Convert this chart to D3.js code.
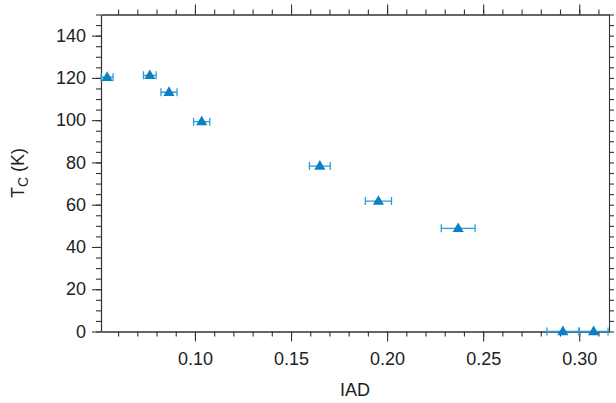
<!DOCTYPE html>
<html>
<head>
<meta charset="utf-8">
<script src="https://cdn.jsdelivr.net/npm/d3@7"></script>
<style>
  html, body { margin: 0; padding: 0; background: #fff; }
  svg { display: block; }
  .axis path, .axis line { stroke: #333; stroke-width: 1.1; }
</style>
</head>
<body>
<svg id="chart"></svg>
<script>
// values
const iad = [0.0543, 0.0765, 0.0865, 0.1035, 0.165, 0.1955, 0.237, 0.2915, 0.3075];
const tc = [120.3, 121.2, 113.2, 99.3, 78.3, 61.7, 48.8, 0, 0];
const iadErr = [0.0031, 0.0033, 0.0042, 0.0042, 0.0054, 0.0068, 0.0088, 0.0083, 0.0075];

const xMajor = [0.10, 0.15, 0.20, 0.25, 0.30];
const yMajor = [0, 20, 40, 60, 80, 100, 120, 140];

const width = 616, height = 403;
const margin = { top: 14.5, right: 7, bottom: 71.5, left: 101 };
const innerW = width - margin.left - margin.right;
const innerH = height - margin.top - margin.bottom;
const font = '"Liberation Sans", Arial, sans-serif';

const svg = d3.select('#chart').attr('width', width).attr('height', height);
const g = svg.append('g').attr('transform', `translate(${margin.left},${margin.top})`);

const x = d3.scaleLinear().domain([0.0511, 0.3155]).range([0, innerW]);
const y = d3.scaleLinear().domain([0, 150]).range([innerH, 0]);

const xMinor = d3.range(0.06, 0.3155, 0.01).map(v => +v.toFixed(2));
const yMinor = d3.range(0, 151, 5);

// bottom axis
g.append('g').attr('class', 'axis').attr('transform', `translate(0,${innerH})`)
  .call(d3.axisBottom(x).tickValues(xMinor).tickSize(5).tickFormat('').tickSizeOuter(0));
g.append('g').attr('class', 'axis').attr('transform', `translate(0,${innerH})`)
  .call(d3.axisBottom(x).tickValues(xMajor).tickSize(10).tickPadding(11)
    .tickFormat(d3.format('.2f')).tickSizeOuter(0));

// top axis
g.append('g').attr('class', 'axis')
  .call(d3.axisTop(x).tickValues(xMinor).tickSize(5).tickFormat('').tickSizeOuter(0));
g.append('g').attr('class', 'axis')
  .call(d3.axisTop(x).tickValues(xMajor).tickSize(10).tickFormat('').tickSizeOuter(0));

// left axis
g.append('g').attr('class', 'axis')
  .call(d3.axisLeft(y).tickValues(yMinor).tickSize(5).tickFormat('').tickSizeOuter(0));
g.append('g').attr('class', 'axis')
  .call(d3.axisLeft(y).tickValues(yMajor).tickSize(9).tickPadding(6).tickSizeOuter(0));

// right axis
g.append('g').attr('class', 'axis').attr('transform', `translate(${innerW},0)`)
  .call(d3.axisRight(y).tickValues(yMinor).tickSize(5).tickFormat('').tickSizeOuter(0));

g.selectAll('.axis').attr('font-family', font).attr('font-size', 18);
g.selectAll('.axis text').attr('fill', '#222');

// axis titles
svg.append('text')
  .attr('x', margin.left + innerW / 2).attr('y', 396)
  .attr('text-anchor', 'middle')
  .attr('font-family', font).attr('font-size', 18).attr('fill', '#222')
  .text('IAD');

const yl = svg.append('text')
  .attr('transform', `translate(24,${margin.top + innerH / 2}) rotate(-90)`)
  .attr('text-anchor', 'middle')
  .attr('font-family', font).attr('font-size', 18).attr('fill', '#222');
yl.append('tspan').text('T');
yl.append('tspan').attr('dy', 4).attr('font-size', 14).text('C');
yl.append('tspan').attr('dy', -4).text(' (K)');

// data
const pts = iad.map((v, i) => ({ x: v, y: tc[i], e: iadErr[i] }));
const errColor = '#2a9dd6';
const markColor = '#0b80c4';

svg.append('defs').append('clipPath').attr('id', 'clip')
  .append('rect').attr('x', -2).attr('y', -10).attr('width', innerW + 2).attr('height', innerH + 20);

const eb = g.append('g').attr('clip-path', 'url(#clip)').selectAll('g.err').data(pts).join('g')
  .attr('stroke', errColor).attr('stroke-width', 1.3);
eb.append('line')
  .attr('x1', d => x(d.x - d.e)).attr('x2', d => x(d.x + d.e))
  .attr('y1', d => y(d.y)).attr('y2', d => y(d.y));
eb.append('line')
  .attr('x1', d => x(d.x - d.e)).attr('x2', d => x(d.x - d.e))
  .attr('y1', d => y(d.y) - 4).attr('y2', d => y(d.y) + 4);
eb.append('line')
  .attr('x1', d => x(d.x + d.e)).attr('x2', d => x(d.x + d.e))
  .attr('y1', d => y(d.y) - 4).attr('y2', d => y(d.y) + 4);

g.append('g').selectAll('path').data(pts).join('path')
  .attr('d', d3.symbol(d3.symbolTriangle, 54))
  .attr('transform', d => `translate(${x(d.x)},${y(d.y) + 0.5})`)
  .attr('fill', markColor);
</script>
</body>
</html>
